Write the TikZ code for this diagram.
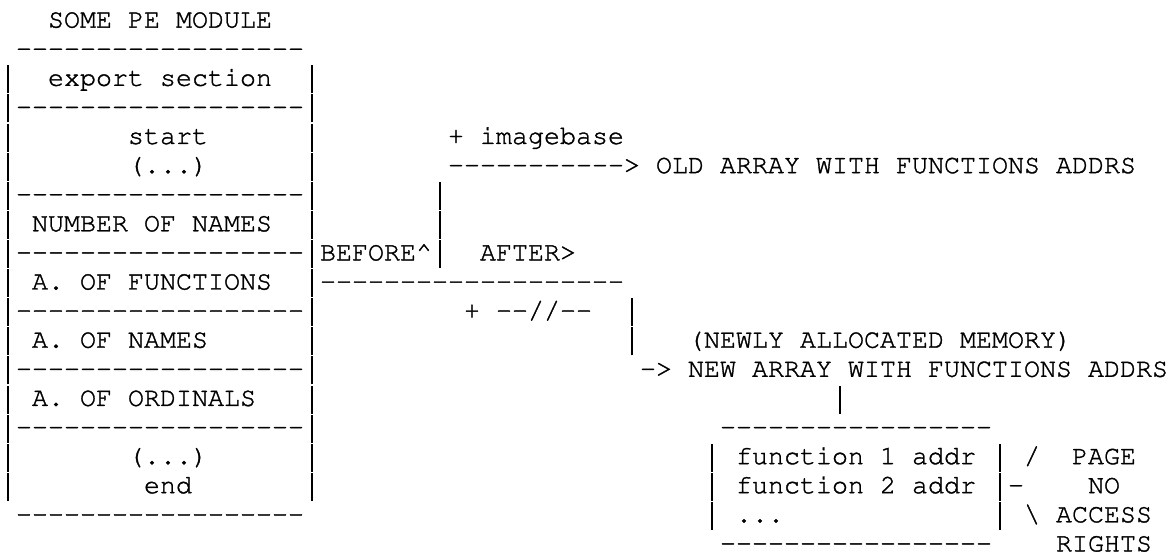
\documentclass[tikz,border=0pt]{standalone}
\usepackage[T1]{fontenc}
% Courier-style monospace, 16pt per character cell, 29.1pt per line
\newcommand\courier{\fontencoding{T1}\fontfamily{pcr}\fontseries{m}\fontshape{n}\fontsize{26.667pt}{29.1pt}\selectfont}
% slightly heavier strokes for the typewriter glyphs
\newcommand\heavy{\special{pdf:literal direct 2 Tr 0.35 w 1 j}}
\newcount\hcnt
% a run of plain hyphens (kerns keep them from forming dashes)
\newcommand\hyph[1]{\hcnt=#1\relax\loop-\kern0pt\advance\hcnt by -1\relax\ifnum\hcnt>0\repeat}
% a vertical bar filling one character cell and almost the whole line
\newcommand\vb{\makebox[16pt]{\rule[-7.6pt]{1.25pt}{28pt}}}
\tikzset{asc/.style={anchor=base west, inner sep=0pt, outer sep=0pt, font=\courier\heavy, text=black}}
% \ascii{name}{column}{line}{text}
\newcommand\ascii[4]{\node[asc] (#1) at ({#2*16pt},{-27.6pt-(#3-1)*29.1pt}) {#4};}
\begin{document}
\begin{tikzpicture}
\fill[white] (0,0) rectangle (1171pt,-556pt);
\useasboundingbox (0,0) rectangle (1171pt,-556pt);

% ---- PE module box ----
\ascii{title}{3}{1}{SOME PE MODULE}
\ascii{topedge}{1}{2}{\hyph{18}}
\foreach \r in {3,...,17}{
  \ascii{lb\r}{0}{\r}{\vb}
  \ascii{rb\r}{19}{\r}{\vb}
}
\foreach \r in {4,7,9,11,13,15}{
  \ascii{sep\r}{1}{\r}{\hyph{18}}
}
\ascii{export}{3}{3}{export section}
\ascii{start}{8}{5}{start}
\ascii{dotsa}{8}{6}{(...)}
\ascii{numnames}{2}{8}{NUMBER OF NAMES}
\ascii{afun}{2}{10}{A. OF FUNCTIONS}
\ascii{anames}{2}{12}{A. OF NAMES}
\ascii{aord}{2}{14}{A. OF ORDINALS}
\ascii{dotsb}{8}{16}{(...)}
\ascii{endtxt}{9}{17}{end}
\ascii{botedge}{1}{18}{\hyph{18}}

% ---- before / after branch ----
\ascii{imgbase}{28}{5}{+ imagebase}
\ascii{oldarrow}{28}{6}{\hyph{11}>}
\ascii{oldarr}{41}{6}{OLD ARRAY WITH FUNCTIONS ADDRS}
\ascii{upa}{27}{7}{\vb}
\ascii{upb}{27}{8}{\vb}
\ascii{before}{20}{9}{BEFORE\textasciicircum}
\ascii{upc}{27}{9}{\vb}
\ascii{after}{30}{9}{AFTER>}
\ascii{afterline}{20}{10}{\hyph{19}}
\ascii{plus}{29}{11}{+ \hyph{2}//\hyph{2}}
\ascii{downa}{39}{11}{\vb}
\ascii{downb}{39}{12}{\vb}
\ascii{newly}{43}{12}{(NEWLY ALLOCATED MEMORY)}
\ascii{newarr}{40}{13}{\hyph{1}> NEW ARRAY WITH FUNCTIONS ADDRS}
\ascii{downc}{52}{14}{\vb}

% ---- new array box ----
\ascii{ntop}{45}{15}{\hyph{17}}
\foreach \r in {16,17,18}{
  \ascii{nl\r}{44}{\r}{\vb}
  \ascii{nr\r}{62}{\r}{\vb}
}
\ascii{fa}{46}{16}{function 1 addr}
\ascii{fb}{46}{17}{function 2 addr}
\ascii{fdots}{46}{18}{...}
\ascii{nbot}{45}{19}{\hyph{17}}

% ---- brace and note ----
\ascii{bra}{64}{16}{/}
\ascii{brb}{63}{17}{\hyph{1}}
\ascii{brc}{64}{18}{\textbackslash}
\ascii{page}{67}{16}{PAGE}
\ascii{no}{68}{17}{NO}
\ascii{access}{66}{18}{ACCESS}
\ascii{rights}{66}{19}{RIGHTS}
\end{tikzpicture}
\end{document}
